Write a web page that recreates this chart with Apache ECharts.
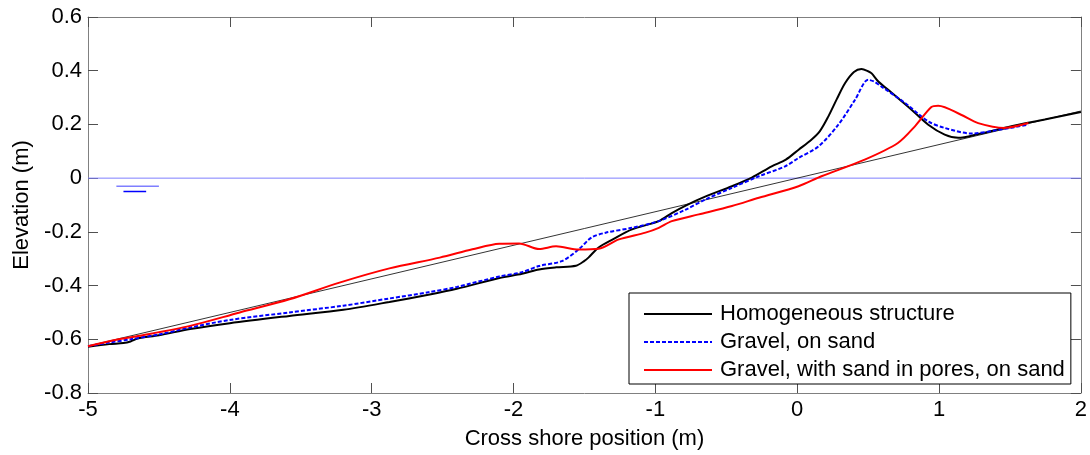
<!DOCTYPE html>
<html>
<head>
<meta charset="utf-8">
<script src="https://cdn.jsdelivr.net/npm/echarts@6/dist/echarts.min.js"></script>
<style>html,body{margin:0;padding:0;background:#fff}#c{width:1090px;height:455px}</style>
</head>
<body>
<div id="c"></div>
<script>
// ---- data ----
var xTicks = [-5, -4, -3, -2, -1, 0, 1, 2];
var yTicks = [-0.8, -0.6, -0.4, -0.2, 0, 0.2, 0.4, 0.6];

var homX = [-5.00,-4.85,-4.75,-4.70,-4.65,-4.50,-4.28,-4.00,-3.58,-3.20,-2.875,-2.60,-2.40,-2.10,-1.94,-1.82,-1.70,-1.56,-1.50,-1.47,-1.40,-1.30,-1.165,-0.976,-0.884,-0.786,-0.645,-0.46,-0.32,-0.18,-0.08,0.01,0.10,0.16,0.22,0.28,0.338,0.40,0.453,0.50,0.525,0.572,0.666,0.806,0.924,1.04,1.135,1.276,1.51,1.745,2.00];
var homY = [-0.628,-0.618,-0.614,-0.608,-0.597,-0.585,-0.562,-0.540,-0.513,-0.490,-0.461,-0.434,-0.412,-0.372,-0.356,-0.340,-0.332,-0.326,-0.308,-0.295,-0.258,-0.228,-0.191,-0.160,-0.130,-0.102,-0.068,-0.030,0.002,0.044,0.069,0.106,0.143,0.175,0.230,0.295,0.354,0.395,0.406,0.398,0.390,0.360,0.318,0.255,0.199,0.162,0.150,0.164,0.193,0.218,0.246];

var gravX = [-5.00,-4.85,-4.70,-4.50,-4.28,-4.00,-3.58,-3.20,-2.875,-2.60,-2.40,-2.10,-1.94,-1.82,-1.66,-1.54,-1.45,-1.35,-1.165,-0.976,-0.786,-0.645,-0.46,-0.27,-0.085,0.009,0.15,0.29,0.408,0.50,0.54,0.594,0.76,0.924,1.04,1.23,1.42,1.63];
var gravY = [-0.626,-0.612,-0.600,-0.582,-0.556,-0.528,-0.500,-0.475,-0.448,-0.425,-0.405,-0.366,-0.350,-0.327,-0.309,-0.265,-0.221,-0.203,-0.185,-0.160,-0.117,-0.079,-0.036,0.007,0.044,0.075,0.118,0.199,0.292,0.366,0.360,0.341,0.280,0.211,0.187,0.166,0.180,0.199];

var poreX = [-5.00,-4.80,-4.634,-4.28,-3.93,-3.58,-3.227,-2.875,-2.52,-2.29,-2.10,-1.96,-1.82,-1.70,-1.54,-1.40,-1.257,-1.07,-0.976,-0.884,-0.694,-0.46,-0.27,0.009,0.171,0.476,0.71,0.83,0.946,0.994,1.155,1.276,1.46,1.63];
var poreY = [-0.626,-0.602,-0.587,-0.550,-0.500,-0.451,-0.389,-0.336,-0.296,-0.265,-0.244,-0.243,-0.264,-0.254,-0.266,-0.263,-0.228,-0.203,-0.185,-0.160,-0.135,-0.104,-0.073,-0.030,0.007,0.069,0.131,0.193,0.265,0.270,0.236,0.205,0.187,0.205];

var slopeX = [-5, 2];
var slopeY = [-0.625, 0.25];
var swlX = [-5, 2];
var swlY = [0, 0];
var mark1X = [-4.80, -4.50]; var mark1Y = [-0.030, -0.030];
var mark2X = [-4.75, -4.59]; var mark2Y = [-0.050, -0.050];

var names = ['Homogeneous structure', 'Gravel, on sand', 'Gravel, with sand in pores, on sand'];

function pairs(xs, ys) { return xs.map(function (x, i) { return [x, ys[i]]; }); }

var FONT = 'Liberation Sans, Arial, sans-serif';
var FS = 22;
var axisLineStyle = { color: '#808080', width: 1 };
var tickStyle = { color: '#505050', width: 1 };

var chart = echarts.init(document.getElementById('c'));
chart.setOption({
  animation: false,
  backgroundColor: '#fff',
  grid: { left: 88, right: 7, top: 17, bottom: 60, containLabel: false },
  xAxis: [{
    type: 'value', min: -5, max: 2, interval: 1, position: 'bottom',
    name: 'Cross shore position (m)', nameLocation: 'middle', nameGap: 35,
    nameTextStyle: { fontFamily: FONT, fontSize: FS, color: '#000' },
    axisLine: { show: true, onZero: false, lineStyle: axisLineStyle },
    axisTick: { show: true, inside: true, length: 10, lineStyle: tickStyle },
    axisLabel: { fontFamily: FONT, fontSize: FS, color: '#000', margin: 6,
      formatter: function (v) { return String(v); } },
    splitLine: { show: false }
  }, {
    type: 'value', min: -5, max: 2, interval: 1, position: 'top',
    axisLine: { show: true, onZero: false, lineStyle: axisLineStyle },
    axisTick: { show: true, inside: true, length: 10, lineStyle: tickStyle },
    axisLabel: { show: false }, splitLine: { show: false }
  }],
  yAxis: [{
    type: 'value', min: -0.8, max: 0.6, interval: 0.2, position: 'left',
    name: 'Elevation (m)', nameLocation: 'middle', nameGap: 55, nameRotate: 90,
    nameTextStyle: { fontFamily: FONT, fontSize: FS, color: '#000' },
    axisLine: { show: true, onZero: false, lineStyle: axisLineStyle },
    axisTick: { show: true, inside: true, length: 10, lineStyle: tickStyle },
    axisLabel: { fontFamily: FONT, fontSize: FS, color: '#000', margin: 6,
      formatter: function (v) { var r = Math.round(v * 10) / 10; return r === 0 ? '0' : r.toFixed(1); } },
    splitLine: { show: false }
  }, {
    type: 'value', min: -0.8, max: 0.6, interval: 0.2, position: 'right',
    axisLine: { show: true, onZero: false, lineStyle: axisLineStyle },
    axisTick: { show: true, inside: true, length: 10, lineStyle: tickStyle },
    axisLabel: { show: false }, splitLine: { show: false }
  }],
  legend: {
    data: names,
    orient: 'vertical',
    left: 629, top: 293,
    padding: [10, 6, 3, 14],
    itemWidth: 68, itemHeight: 14, itemGap: 6,
    borderColor: '#000', borderWidth: 1, backgroundColor: '#fff', borderRadius: 0,
    itemStyle: { color: 'transparent', borderWidth: 0, opacity: 0 },
    textStyle: { fontFamily: FONT, fontSize: FS, lineHeight: 22, color: '#000', padding: [0, 0, 0, 3] }
  },
  series: [
    { type: 'line', name: 'swl', data: pairs(swlX, swlY), showSymbol: false, symbol: 'none',
      lineStyle: { color: '#7f7fff', width: 1 }, silent: true, z: 1 },
    { type: 'line', name: 'm1', data: pairs(mark1X, mark1Y), showSymbol: false, symbol: 'none',
      lineStyle: { color: '#7f7fff', width: 1.5 }, silent: true, z: 1 },
    { type: 'line', name: 'm2', data: pairs(mark2X, mark2Y), showSymbol: false, symbol: 'none',
      lineStyle: { color: '#0000ff', width: 1.5 }, silent: true, z: 1 },
    { type: 'line', name: 'slope', data: pairs(slopeX, slopeY), showSymbol: false, symbol: 'none',
      lineStyle: { color: '#000', width: 0.8 }, silent: true, z: 2 },
    { type: 'line', name: names[0], data: pairs(homX, homY), showSymbol: false, symbol: 'none', smooth: 0.3,
      lineStyle: { color: '#000', width: 2 }, itemStyle: { color: '#000' }, z: 3 },
    { type: 'line', name: names[1], data: pairs(gravX, gravY), showSymbol: false, symbol: 'none', smooth: 0.3,
      lineStyle: { color: '#0000ff', width: 2, type: [4, 2] }, itemStyle: { color: '#0000ff' }, z: 4 },
    { type: 'line', name: names[2], data: pairs(poreX, poreY), showSymbol: false, symbol: 'none', smooth: 0.3,
      lineStyle: { color: '#ff0000', width: 2 }, itemStyle: { color: '#ff0000' }, z: 5 }
  ]
});
</script>
</body>
</html>
